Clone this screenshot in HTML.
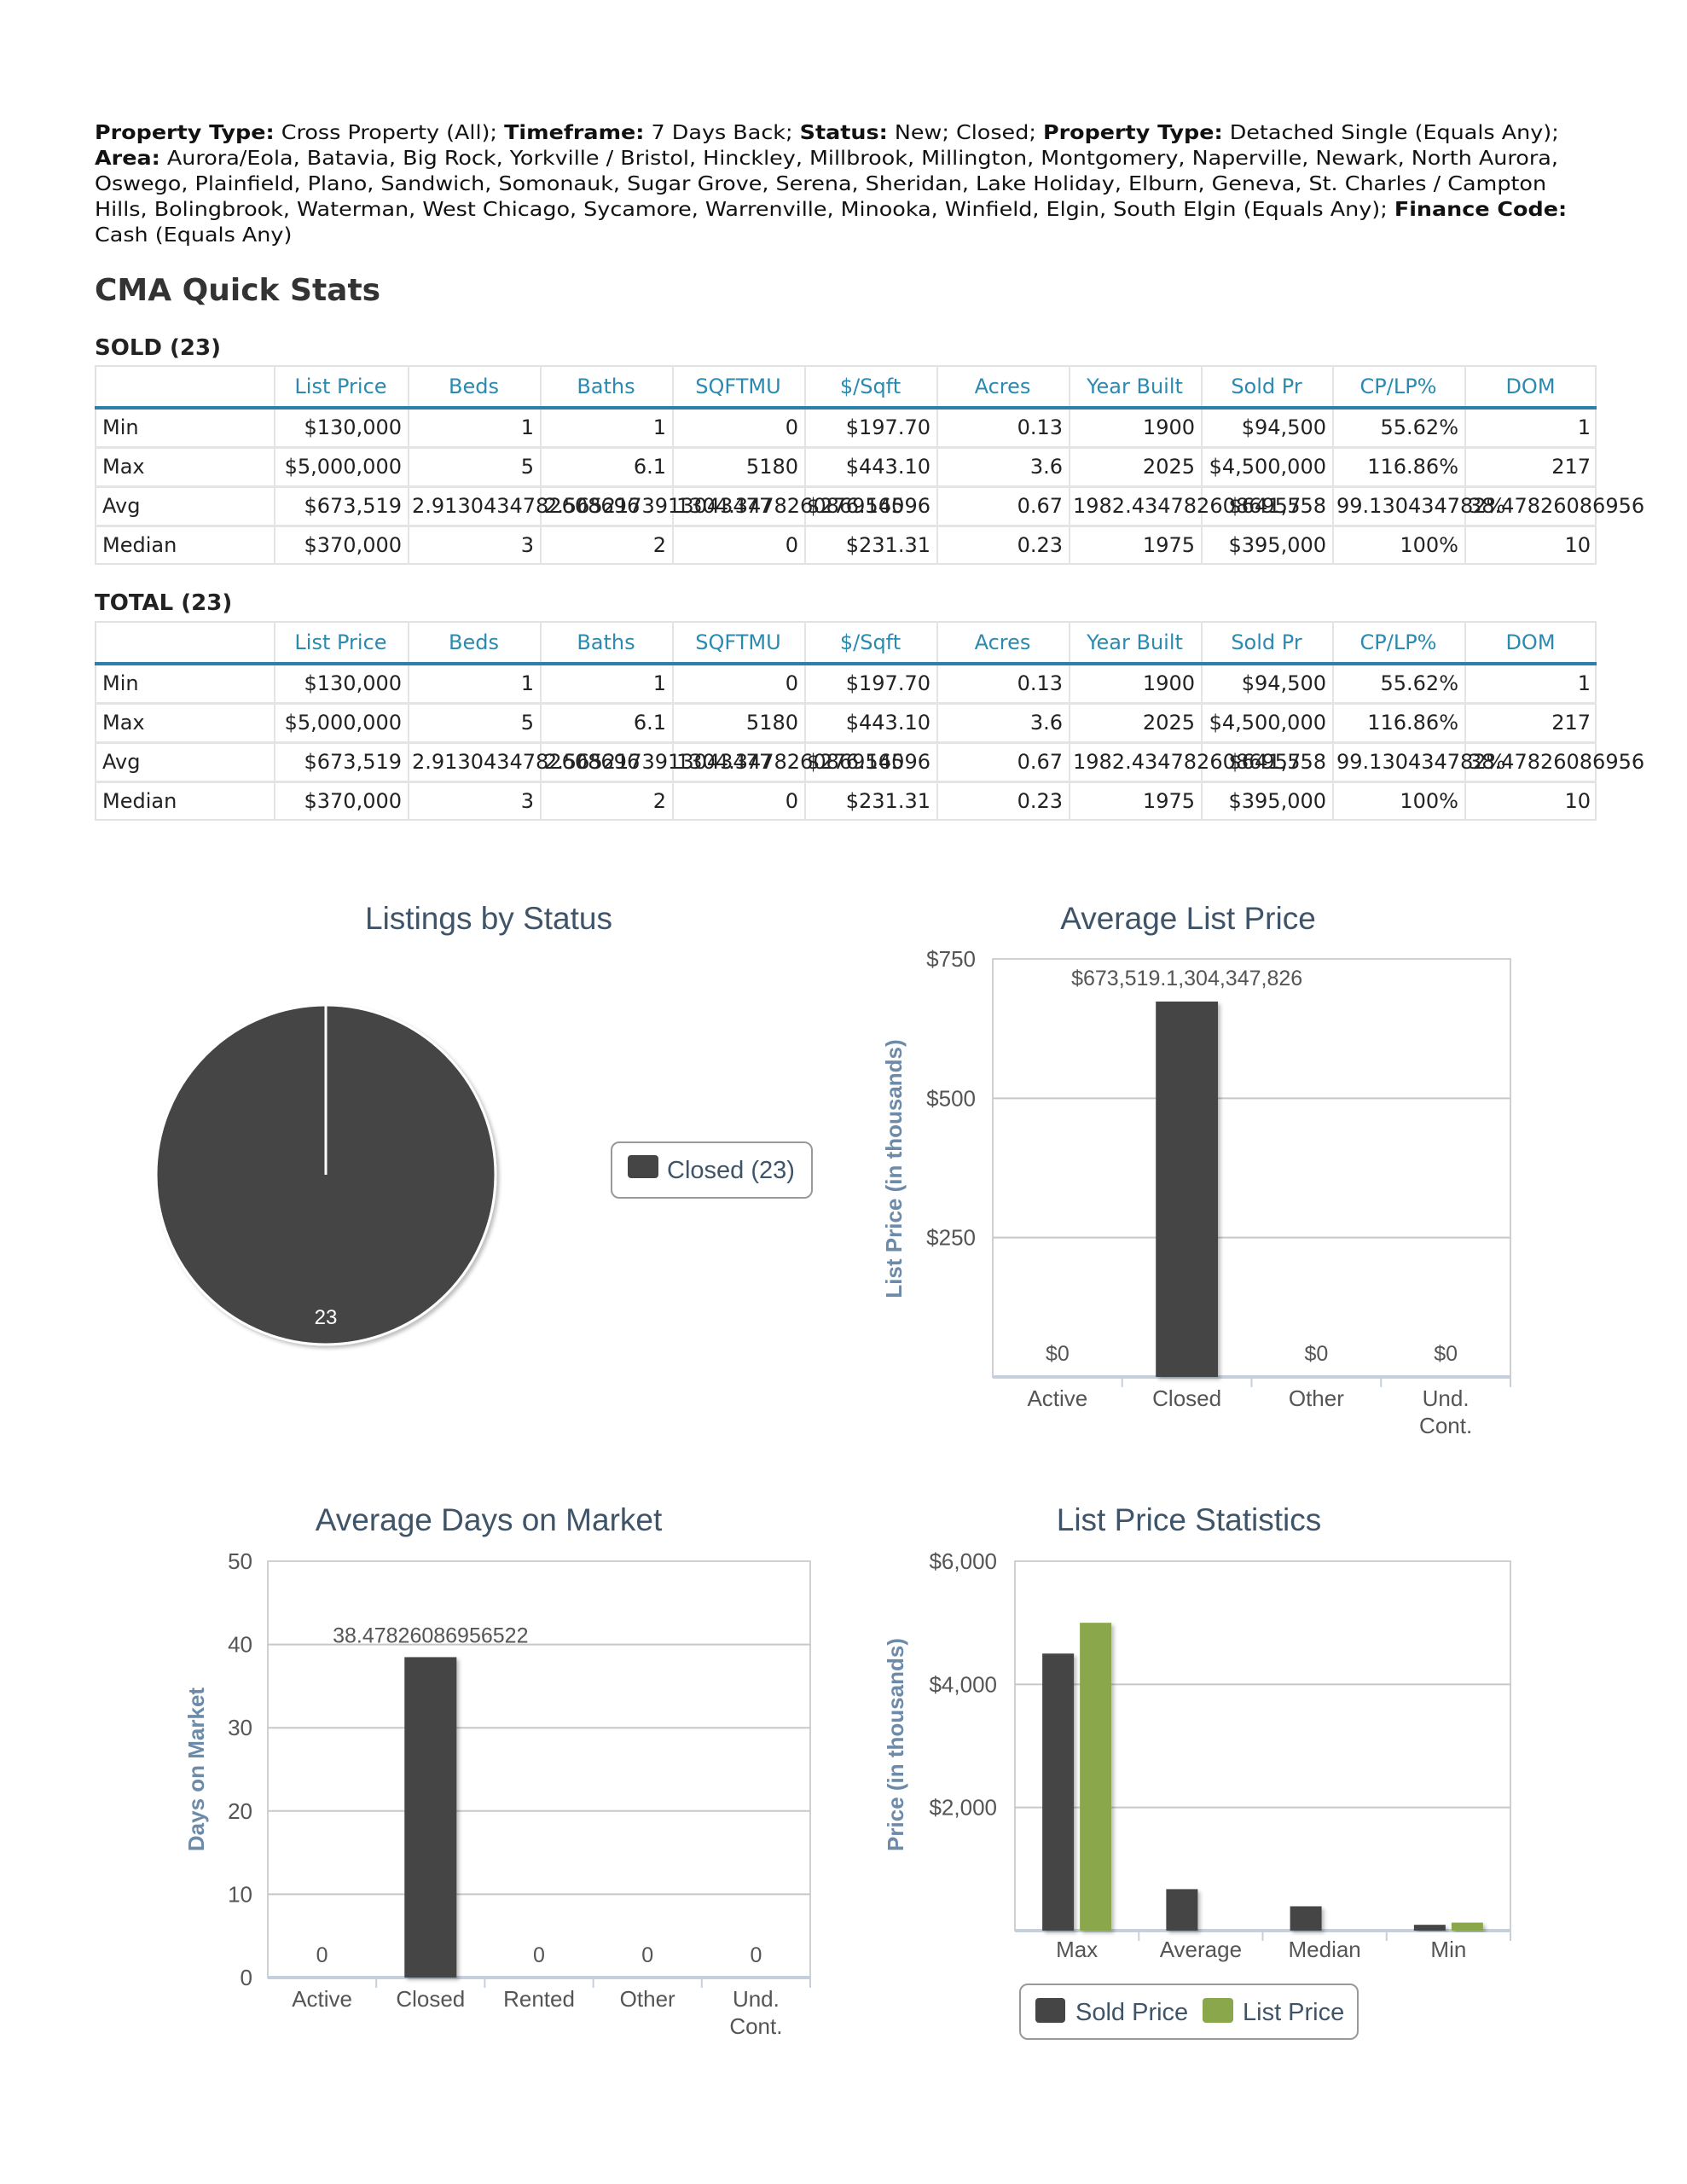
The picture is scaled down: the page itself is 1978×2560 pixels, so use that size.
<!DOCTYPE html>
<html><head><meta charset="utf-8">
<style>
body{margin:0;background:#fff;}
#page{position:relative;width:1978px;height:2560px;overflow:hidden;background:#fff;font-family:"DejaVu Sans","Liberation Sans",sans-serif;}
#criteria{position:absolute;left:111px;top:141px;font-size:23px;line-height:30px;color:#111;white-space:nowrap;transform:scaleX(1.105);transform-origin:0 0;}
#criteria b{font-weight:bold;}
.h1{position:absolute;left:111px;font-size:36px;font-weight:bold;color:#333;}
.h2{position:absolute;left:111px;font-size:26px;font-weight:bold;color:#222;}
.cell{position:absolute;font-size:24px;color:#222;white-space:nowrap;box-sizing:border-box;}
.hcell{color:#2a8ab0;text-align:center;}
svg text{font-family:"Liberation Sans",sans-serif;}
</style></head>
<body>
<div id="page">
<div id="criteria"><b>Property Type:</b> Cross Property (All); <b>Timeframe:</b> 7 Days Back; <b>Status:</b> New; Closed; <b>Property Type:</b> Detached Single (Equals Any);<br><b>Area:</b> Aurora/Eola, Batavia, Big Rock, Yorkville / Bristol, Hinckley, Millbrook, Millington, Montgomery, Naperville, Newark, North Aurora,<br>Oswego, Plainfield, Plano, Sandwich, Somonauk, Sugar Grove, Serena, Sheridan, Lake Holiday, Elburn, Geneva, St. Charles / Campton<br>Hills, Bolingbrook, Waterman, West Chicago, Sycamore, Warrenville, Minooka, Winfield, Elgin, South Elgin (Equals Any); <b>Finance Code:</b><br>Cash (Equals Any)</div>
<div class="h1" style="top:320px">CMA Quick Stats</div>
<div class="h2" style="top:393px">SOLD (23)</div>
<div class="h2" style="top:692px">TOTAL (23)</div>
<div id="tables"></div>
<svg id="charts" width="1978" height="2560" style="position:absolute;left:0;top:0">
<defs><filter id="sh" x="-10%" y="-10%" width="130%" height="130%"><feDropShadow dx="3" dy="3" stdDeviation="2" flood-color="#000" flood-opacity="0.25"/></filter></defs>
</svg>
</div>
<script>
// ---------- table data ----------
const colHeaders=["List Price","Beds","Baths","SQFTMU","$/Sqft","Acres","Year Built","Sold Pr","CP/LP%","DOM"];
const rowLabels=["Min","Max","Avg","Median"];
const rowMin=["$130,000","1","1","0","$197.70","0.13","1900","$94,500","55.62%","1"];
const rowMax=["$5,000,000","5","6.1","5180","$443.10","3.6","2025","$4,500,000","116.86%","217"];
const rowAvg=["$673,519","2.9130434782608696","2.5652173913043477","1304.3478260869565","$276.14096","0.67","1982.4347826086957","$641,558","99.130434782%","38.47826086956"];
const rowMed=["$370,000","3","2","0","$231.31","0.23","1975","$395,000","100%","10"];

const colX=[111,321,478,633,788,943,1098,1253,1408,1562,1717,1872];
const NS="http://www.w3.org/2000/svg";
const tablesDiv=document.getElementById('tables');
function buildTable(top,name){
  const rows=[rowMin,rowMax,rowAvg,rowMed];
  const hH=50,rH=46;
  const bottom=top+hH+rH*4;
  const outer=document.createElement('div');
  
  
  outer.style.cssText=`position:absolute;left:${colX[0]}px;top:${top}px;width:${colX[11]-colX[0]}px;height:${bottom-top}px;border:2px solid #e2e2e2;box-sizing:border-box;`;
  tablesDiv.appendChild(outer);
  for(let i=1;i<11;i++){
    const v=document.createElement('div');
    
    
    v.style.cssText=`position:absolute;left:${colX[i]}px;top:${top}px;width:2px;height:${bottom-top}px;background:#e4e4e4;`;
    tablesDiv.appendChild(v);
  }
  for(let r=1;r<4;r++){
    const h=document.createElement('div');
    
    
    h.style.cssText=`position:absolute;left:${colX[0]}px;top:${top+hH+rH*r-1}px;width:${colX[11]-colX[0]}px;height:3px;background:#e4e4e4;`;
    tablesDiv.appendChild(h);
  }
  const bl=document.createElement('div');
  
  
  bl.style.cssText=`position:absolute;left:${colX[0]}px;top:${top+hH-2}px;width:${colX[11]-colX[0]}px;height:4px;background:#2e7fa8;`;
  tablesDiv.appendChild(bl);
  colHeaders.forEach((t,i)=>{
    const c=document.createElement('div');
    c.className='cell hcell';
    
    
    c.textContent=t;
    c.style.left=colX[i+1]+'px';c.style.width=(colX[i+2]-colX[i+1])+'px';c.style.top=(top+11)+'px';
    tablesDiv.appendChild(c);
  });
  rows.forEach((row,r)=>{
    const y=top+hH+rH*r+9;
    const l=document.createElement('div');
    l.className='cell';
    
    
    l.textContent=rowLabels[r];
    l.style.left=(colX[0]+9)+'px';l.style.top=y+'px';
    tablesDiv.appendChild(l);
    row.forEach((t,i)=>{
      const c=document.createElement('div');
      c.className='cell';
      
      
      c.textContent=t;
      const w=colX[i+2]-colX[i+1];
      c.style.top=y+'px';
      if(r===2 && t.length>10){c.style.left=(colX[i+1]+5)+'px';}
      else {c.style.left=colX[i+1]+'px';c.style.width=(w-7)+'px';c.style.textAlign='right';}
      tablesDiv.appendChild(c);
    });
  });
}
buildTable(428,'sold-stats-table');
buildTable(728,'total-stats-table');

// ---------- chart data ----------
const pieCats=["Closed"];
const pieValues=[23];

const alpCats=[["Active"],["Closed"],["Other"],["Und.","Cont."]];
const alpValueAll=[0,673.519,0,0];
const alpLabels=["$0","$673,519.1,304,347,826","$0","$0"];
const alpTicks=[250,500,750];
const alpTickLabels=["$250","$500","$750"];

const domCats=[["Active"],["Closed"],["Rented"],["Other"],["Und.","Cont."]];
const domValues=[0,38.47826086956522,0,0,0];
const domLabels=["0","38.47826086956522","0","0","0"];
const domTicks=[0,10,20,30,40,50];
const domTickLabels=["0","10","20","30","40","50"];

const lpsCats=["Max","Average","Median","Min"];
const lpsSold=[4500,673.5,395,94.5];
const lpsList=[5000,0,0,130];
const lpsTicks=[2000,4000,6000];
const lpsTickLabels=["$2,000","$4,000","$6,000"];

const svg=document.getElementById('charts');
function el(tag,attrs,parent){const e=document.createElementNS(NS,tag);for(const k in attrs)e.setAttribute(k,attrs[k]);(parent||svg).appendChild(e);return e;}
function txt(str,x,y,attrs,parent){const t=el('text',Object.assign({x:x,y:y},attrs),parent);t.textContent=str;return t;}

function frame(g,L,R,T,B,maxV,ticks,tickLabels,nCats,tickRight){
  const ys=v=>B-(v/maxV)*(B-T);
  el('rect',{x:L,y:T,width:R-L,height:B-T,fill:'#fff',stroke:'#d0d0d0','stroke-width':2},g);
  ticks.forEach((t,i)=>{
    const y=ys(t);
    if(t>0&&t<maxV){const gl=el('line',{x1:L,x2:R,y1:y,y2:y,stroke:'#c8c8c8','stroke-width':2},g);
      
      }
    const lb=txt(tickLabels[i],tickRight,y+9,{'font-size':26,fill:'#555','text-anchor':'end'},g);
    
    
  });
  el('line',{x1:L,x2:R,y1:B,y2:B,stroke:'#c5d0dc','stroke-width':4},g);
  const cw=(R-L)/nCats;
  for(let i=1;i<=nCats;i++){el('line',{x1:L+cw*i,x2:L+cw*i,y1:B,y2:B+12,stroke:'#c5d0dc','stroke-width':2},g);}
  return ys;
}

// ---- Pie ----
(function(){
  const g=el('g',{});
  
  
  const t=txt('Listings by Status',573,1089,{'font-size':37,fill:'#3f5468','text-anchor':'middle'},g);
  
  
  const cx=382,cy=1377,r=199;
  const total=pieValues.reduce((a,b)=>a+b,0);
  let a0=-Math.PI/2;
  pieValues.forEach((v,i)=>{
    const frac=v/total;
    let s;
    if(frac>=0.9999){s=el('circle',{cx:cx,cy:cy,r:r,fill:'#454545',stroke:'#fff','stroke-width':3,filter:'url(#sh)'},g);}
    else{const a1=a0+frac*2*Math.PI;s=el('path',{d:`M${cx},${cy}L${cx+r*Math.cos(a0)},${cy+r*Math.sin(a0)}A${r},${r} 0 ${frac>0.5?1:0} 1 ${cx+r*Math.cos(a1)},${cy+r*Math.sin(a1)}Z`,fill:'#454545',stroke:'#fff','stroke-width':3},g);a0=a1;}
    
    
    const lb=txt(String(v),cx,cy+r-24,{'font-size':24,fill:'#fff','text-anchor':'middle'},g);
    
    
  });
  el('line',{x1:cx,y1:cy,x2:cx,y2:cy-r,stroke:'#fff','stroke-width':3},g);
  const lg=el('g',{},g);
  
  
  el('rect',{x:717,y:1339,width:235,height:65,rx:9,fill:'#fff',stroke:'#999','stroke-width':2},lg);
  el('rect',{x:736,y:1354,width:36,height:27,rx:4,fill:'#454545'},lg);
  txt(pieCats[0]+' ('+pieValues[0]+')',782,1381,{'font-size':29,fill:'#3f5468'},lg);
})();

// ---- Average List Price ----
(function(){
  const g=el('g',{});
  
  
  const t=txt('Average List Price',1393,1089,{'font-size':37,fill:'#3f5468','text-anchor':'middle'},g);
  
  
  const L=1164,R=1771,T=1124,B=1614,maxV=750;
  const ys=frame(g,L,R,T,B,maxV,alpTicks,alpTickLabels,alpCats.length,1144);
  const cw=(R-L)/alpCats.length,bw=cw*0.48;
  alpCats.forEach((c,i)=>{
    const v=alpValueAll[i];
    const x=L+cw*i+(cw-bw)/2;
    if(v>0){const b=el('rect',{x:x,y:ys(v),width:bw,height:B-ys(v),fill:'#454545',filter:'url(#sh)'},g);
      
      }
    const vl=txt(alpLabels[i],L+cw*i+cw/2,(v>0?ys(v):B)-19,{'font-size':25,fill:'#555','text-anchor':'middle'},g);
    
    
    c.forEach((line,j)=>{const xl=txt(line,L+cw*i+cw/2,1648+j*32,{'font-size':26,fill:'#555','text-anchor':'middle'},g);
      
      });
  });
  const yt=txt('List Price (in thousands)',0,0,{'font-size':26,'font-weight':'bold',fill:'#6d8aa8','text-anchor':'middle',transform:'translate(1057,1370) rotate(-90)'},g);
  
  
})();

// ---- Average Days on Market ----
(function(){
  const g=el('g',{});
  
  
  const t=txt('Average Days on Market',573,1794,{'font-size':37,fill:'#3f5468','text-anchor':'middle'},g);
  
  
  const L=314,R=950,T=1830,B=2318,maxV=50;
  const ys=frame(g,L,R,T,B,maxV,domTicks,domTickLabels,domCats.length,296);
  const cw=(R-L)/domCats.length,bw=cw*0.48;
  domCats.forEach((c,i)=>{
    const v=domValues[i];
    const x=L+cw*i+(cw-bw)/2;
    if(v>0){const b=el('rect',{x:x,y:ys(v),width:bw,height:B-ys(v),fill:'#454545',filter:'url(#sh)'},g);
      
      }
    const vl=txt(domLabels[i],L+cw*i+cw/2,(v>0?ys(v)-17:B-18),{'font-size':25,fill:'#555','text-anchor':'middle'},g);
    
    
    c.forEach((line,j)=>{const xl=txt(line,L+cw*i+cw/2,2352+j*32,{'font-size':26,fill:'#555','text-anchor':'middle'},g);
      
      });
  });
  const yt=txt('Days on Market',0,0,{'font-size':26,'font-weight':'bold',fill:'#6d8aa8','text-anchor':'middle',transform:'translate(239,2074) rotate(-90)'},g);
  
  
})();

// ---- List Price Statistics ----
(function(){
  const g=el('g',{});
  
  
  const t=txt('List Price Statistics',1394,1794,{'font-size':37,fill:'#3f5468','text-anchor':'middle'},g);
  
  
  const L=1190,R=1771,T=1830,B=2263,maxV=6000;
  const ys=frame(g,L,R,T,B,maxV,lpsTicks,lpsTickLabels,lpsCats.length,1169);
  const cw=(R-L)/lpsCats.length,bw=37,gap=7;
  lpsCats.forEach((c,i)=>{
    const cx=L+cw*i+cw/2;
    const s=lpsSold[i],l=lpsList[i];
    if(s>0){const b=el('rect',{x:cx-gap/2-bw,y:ys(s),width:bw,height:B-ys(s),fill:'#454545',filter:'url(#sh)'},g);
      
      }
    if(l>0){const b=el('rect',{x:cx+gap/2,y:ys(l),width:bw,height:B-ys(l),fill:'#8aa84b',filter:'url(#sh)'},g);
      
      }
    const xl=txt(c,cx,2294,{'font-size':26,fill:'#555','text-anchor':'middle'},g);
    
    
  });
  const yt=txt('Price (in thousands)',0,0,{'font-size':26,'font-weight':'bold',fill:'#6d8aa8','text-anchor':'middle',transform:'translate(1059,2045) rotate(-90)'},g);
  
  
  const lg=el('g',{},g);
  
  
  el('rect',{x:1196,y:2326,width:396,height:64,rx:9,fill:'#fff',stroke:'#999','stroke-width':2},lg);
  el('rect',{x:1214,y:2342,width:35,height:29,rx:4,fill:'#454545'},lg);
  txt('Sold Price',1261,2368,{'font-size':29,fill:'#3f5468'},lg);
  el('rect',{x:1410,y:2342,width:36,height:29,rx:4,fill:'#8aa84b'},lg);
  txt('List Price',1457,2368,{'font-size':29,fill:'#3f5468'},lg);
})();
</script>
</body></html>
